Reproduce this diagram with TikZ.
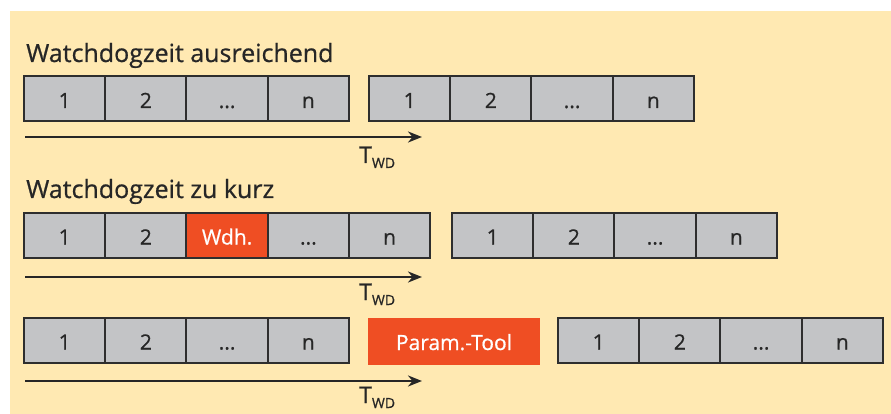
\documentclass[tikz,border=0pt]{standalone}
\usepackage{fontspec}
\setmainfont[FakeBold=0.7]{Open Sans}
\usetikzlibrary{arrows.meta}
\definecolor{bgyellow}{HTML}{FFE9B2}
\definecolor{cellgray}{HTML}{C3C4C6}
\definecolor{edgedark}{HTML}{2E2E2E}
\definecolor{accent}{HTML}{EF4E23}
\tikzset{
  cell/.style={draw=edgedark, line width=2pt, fill=cellgray, minimum width=81.25pt, minimum height=45pt, inner sep=0pt, text height=18pt, text depth=0pt, font=\fontsize{21}{21}\selectfont, text=black!85},
  hotcell/.style={cell, fill=accent, draw=edgedark, text=white},
  toolbox/.style={fill=accent, minimum width=172pt, minimum height=47pt, inner sep=0pt, text height=18pt, text depth=0pt, font=\fontsize{21}{21}\selectfont, text=white},
  title/.style={anchor=base west, inner sep=0pt, font=\fontsize{25}{25}\selectfont, text=black!85},
  timearrow/.style={line width=2.5pt, draw=black!85, -{Stealth[length=14pt, width=11pt]}},
  twd/.style={anchor=base west, inner sep=0pt, font=\fontsize{23}{23}\selectfont, text=black!85}
}
\newcommand{\twdlabel}{T\raisebox{-5pt}{\fontsize{14}{14}\selectfont WD}}
\begin{document}
\begin{tikzpicture}[x=1pt, y=-1pt]
\useasboundingbox (0,0) rectangle (891,414);
\fill[bgyellow] (10,11) rectangle (891,414);

% Row 1
\node[title] (t1) at (26,62) {Watchdogzeit ausreichend};
\node[cell] (r1a1) at (64.6,99) {1};
\node[cell] (r1a2) at (145.9,99) {2};
\node[cell] (r1a3) at (227.1,99) {...};
\node[cell] (r1a4) at (308.4,99) {n};
\node[cell] (r1b1) at (409.6,99) {1};
\node[cell] (r1b2) at (490.9,99) {2};
\node[cell] (r1b3) at (572.1,99) {...};
\node[cell] (r1b4) at (653.4,99) {n};
\coordinate (a1s) at (25,137);
\coordinate (a1e) at (422,137);
\draw[timearrow] (a1s) -- (a1e);
\node[twd] (w1) at (359,163) {\twdlabel};

% Row 2
\node[title] (t2) at (26,198) {Watchdogzeit zu kurz};
\node[cell] (r2a1) at (64.6,235.5) {1};
\node[cell] (r2a2) at (145.9,235.5) {2};
\node[hotcell] (r2a3) at (227.1,235.5) {Wdh.};
\node[cell] (r2a4) at (308.4,235.5) {...};
\node[cell] (r2a5) at (389.6,235.5) {n};
\node[cell] (r2b1) at (492.6,235.5) {1};
\node[cell] (r2b2) at (573.9,235.5) {2};
\node[cell] (r2b3) at (655.1,235.5) {...};
\node[cell] (r2b4) at (736.4,235.5) {n};
\coordinate (a2s) at (25,277);
\coordinate (a2e) at (422,277);
\draw[timearrow] (a2s) -- (a2e);
\node[twd] (w2) at (359,300) {\twdlabel};

% Row 3
\node[cell] (r3a1) at (64.6,340.5) {1};
\node[cell] (r3a2) at (145.9,340.5) {2};
\node[cell] (r3a3) at (227.1,340.5) {...};
\node[cell] (r3a4) at (308.4,340.5) {n};
\node[toolbox] (tool) at (454,341) {Param.-Tool};
\node[cell] (r3b1) at (598.6,340.5) {1};
\node[cell] (r3b2) at (679.9,340.5) {2};
\node[cell] (r3b3) at (761.1,340.5) {...};
\node[cell] (r3b4) at (842.4,340.5) {n};
\coordinate (a3s) at (25,381);
\coordinate (a3e) at (422,381);
\draw[timearrow] (a3s) -- (a3e);
\node[twd] (w3) at (359,403) {\twdlabel};
\end{tikzpicture}
\end{document}
